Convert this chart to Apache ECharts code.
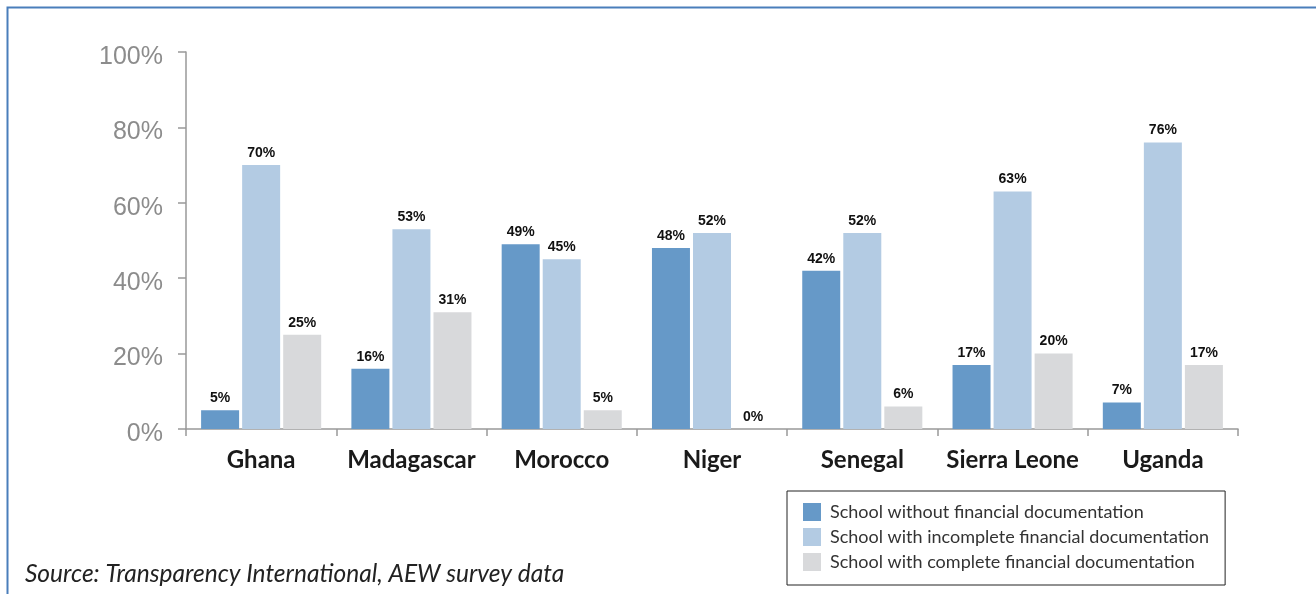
<!DOCTYPE html>
<html lang="en">
<head>
    <meta charset="UTF-8">
    <title>Financial documentation</title>
    <style>
        html, body { margin: 0; padding: 0; background: #fff; }
        #main { width: 1316px; height: 594px; }
    </style>
</head>
<body>
<div id="main"></div>
<script src="https://cdn.jsdelivr.net/npm/echarts@6/dist/echarts.min.js"></script>
<script type="text/javascript">
    var countries = ['Ghana', 'Madagascar', 'Morocco', 'Niger', 'Senegal', 'Sierra Leone', 'Uganda'];
    var seriesNames = [
        'School without financial documentation',
        'School with incomplete financial documentation',
        'School with complete financial documentation'
    ];
    var withoutDoc = [5, 16, 49, 48, 42, 17, 7];
    var incompleteDoc = [70, 53, 45, 52, 52, 63, 76];
    var completeDoc = [25, 31, 5, 0, 6, 20, 17];
    var colors = ['#6699c8', '#b3cbe3', '#d8d9db'];

    var myChart = echarts.init(document.getElementById('main'));

    function barSeries(name, data, color) {
        return {
            name: name,
            type: 'bar',
            data: data,
            barWidth: 38,
            barGap: '8%',
            itemStyle: { color: color },
            label: {
                show: true,
                position: 'top',
                distance: 5,
                formatter: '{c}%',
                fontFamily: 'Liberation Sans',
                fontWeight: 'bold',
                fontSize: 14,
                color: '#111'
            }
        };
    }

    var option = {
        animation: false,
        grid: { left: 186, right: 78, top: 52, bottom: 165 },
        legend: {
            orient: 'vertical',
            left: 787,
            top: 491,
            padding: [12, 16, 14, 16],
            borderColor: '#222',
            borderWidth: 1,
            itemWidth: 18,
            itemHeight: 18,
            itemGap: 7,
            icon: 'rect',
            selectedMode: false,
            textStyle: { fontFamily: 'Lato', fontSize: 18, color: '#333', lineHeight: 18, padding: [0, 0, 0, 4] },
            data: seriesNames
        },
        xAxis: {
            type: 'category',
            data: countries,
            axisLine: { lineStyle: { color: '#999', width: 1.5 } },
            axisTick: { show: true, length: 7, lineStyle: { color: '#999', width: 1.5 } },
            axisLabel: {
                interval: 0,
                margin: 19,
                fontFamily: 'Lato',
                fontWeight: 'bold',
                fontSize: 24,
                color: '#1a1a1a'
            }
        },
        yAxis: {
            type: 'value',
            min: 0,
            max: 100,
            interval: 20,
            axisLine: { show: true, lineStyle: { color: '#999', width: 1.5 } },
            axisTick: { show: true, length: 8, lineStyle: { color: '#999', width: 1.5 } },
            splitLine: { show: false },
            axisLabel: {
                margin: 23,
                formatter: '{value}%',
                fontFamily: 'Liberation Sans',
                fontSize: 25,
                color: '#8c8c8c',
                verticalAlign: 'top',
                lineHeight: 10
            }
        },
        graphic: [
            {
                type: 'rect',
                shape: { x: 7.5, y: 7.5, width: 1330, height: 620 },
                style: { fill: 'none', stroke: '#4a7ebb', lineWidth: 2 },
                silent: true
            },
            {
                type: 'text',
                left: 25,
                top: 562,
                style: {
                    text: 'Source: Transparency International, AEW survey data',
                    font: 'italic 24.5px Lato',
                    fill: '#222'
                }
            }
        ],
        series: [
            barSeries(seriesNames[0], withoutDoc, colors[0]),
            barSeries(seriesNames[1], incompleteDoc, colors[1]),
            barSeries(seriesNames[2], completeDoc, colors[2])
        ]
    };

    myChart.setOption(option);
</script>
</body>
</html>
